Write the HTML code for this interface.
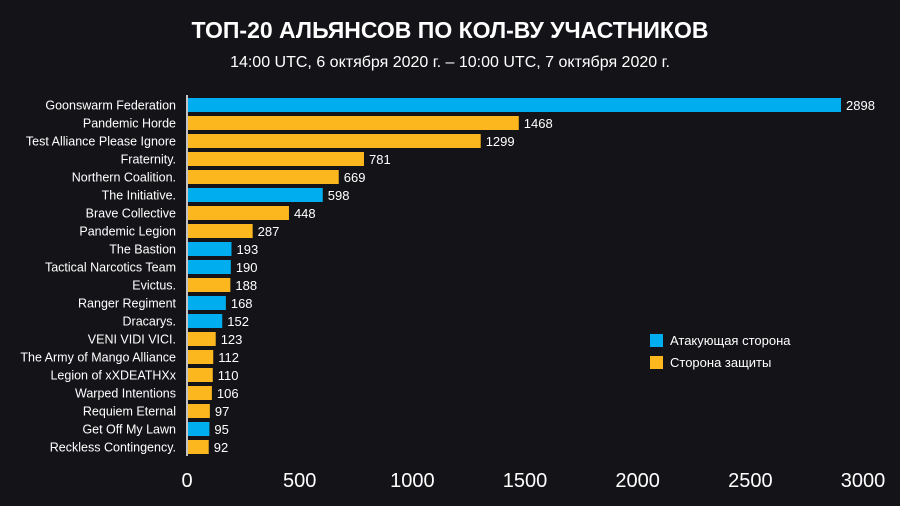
<!DOCTYPE html>
<html><head><meta charset="utf-8"><style>
body{margin:0;background:#141418;}
svg{display:block;font-family:"Liberation Sans",sans-serif;}
</style></head><body>
<svg id="c" width="900" height="506">
<rect width="900" height="506" fill="#141418"/>
<text x="450" y="38" text-anchor="middle" fill="#fff" font-size="23" font-weight="bold">ТОП-20 АЛЬЯНСОВ ПО КОЛ-ВУ УЧАСТНИКОВ</text>
<text x="450" y="67" text-anchor="middle" fill="#fff" font-size="16">14:00 UTC, 6 октября 2020 г. – 10:00 UTC, 7 октября 2020 г.</text>
<g id="bars"></g>
<g id="xaxis"></g>
<line x1="187" y1="95" x2="187" y2="456" stroke="#fff" stroke-width="1.5"/>
<g>
<rect x="650" y="334" width="13" height="13" fill="#00aeef"/>
<text x="670" y="345" fill="#fff" font-size="13">Атакующая сторона</text>
<rect x="650" y="356" width="13" height="13" fill="#fbb71d"/>
<text x="670" y="367" fill="#fff" font-size="13">Сторона защиты</text>
</g>
</svg>
<script>
const categories=["Goonswarm Federation","Pandemic Horde","Test Alliance Please Ignore","Fraternity.","Northern Coalition.","The Initiative.","Brave Collective","Pandemic Legion","The Bastion","Tactical Narcotics Team","Evictus.","Ranger Regiment","Dracarys.","VENI VIDI VICI.","The Army of Mango Alliance","Legion of xXDEATHXx","Warped Intentions","Requiem Eternal","Get Off My Lawn","Reckless Contingency."];
const values=[2898,1468,1299,781,669,598,448,287,193,190,188,168,152,123,112,110,106,97,95,92];
const sides=["a","d","d","d","d","a","d","d","a","a","d","a","a","d","d","d","d","d","a","d"];
const ticks=[0,500,1000,1500,2000,2500,3000];
const NS="http://www.w3.org/2000/svg";
const x=v=>188+v*(862-186)/3000;
const y=i=>105+i*18;
const bars=document.getElementById('bars');
categories.forEach((c,i)=>{
 const r=document.createElementNS(NS,'rect');
 
 
 r.setAttribute('x',x(0));r.setAttribute('y',y(i)-7);
 r.setAttribute('width',x(values[i])-x(0));r.setAttribute('height',14);
 r.setAttribute('fill',sides[i]==='a'?'#00aeef':'#fbb71d');
 bars.appendChild(r);
 const l=document.createElementNS(NS,'text');
 
 
 l.setAttribute('x',176);l.setAttribute('y',y(i)+4.5);
 l.setAttribute('text-anchor','end');l.setAttribute('fill','#fff');l.setAttribute('font-size','12.5');
 l.textContent=c;bars.appendChild(l);
 const v=document.createElementNS(NS,'text');
 
 
 v.setAttribute('x',x(values[i])+5);v.setAttribute('y',y(i)+5);
 v.setAttribute('fill','#fff');v.setAttribute('font-size','13');
 v.textContent=values[i];bars.appendChild(v);
});
const xa=document.getElementById('xaxis');
ticks.forEach(t=>{
 const e=document.createElementNS(NS,'text');
 
 
 e.setAttribute('x',x(t)-1);e.setAttribute('y',487);
 e.setAttribute('text-anchor','middle');e.setAttribute('fill','#fff');e.setAttribute('font-size','20');
 e.textContent=t;xa.appendChild(e);
});
</script>
</body></html>
